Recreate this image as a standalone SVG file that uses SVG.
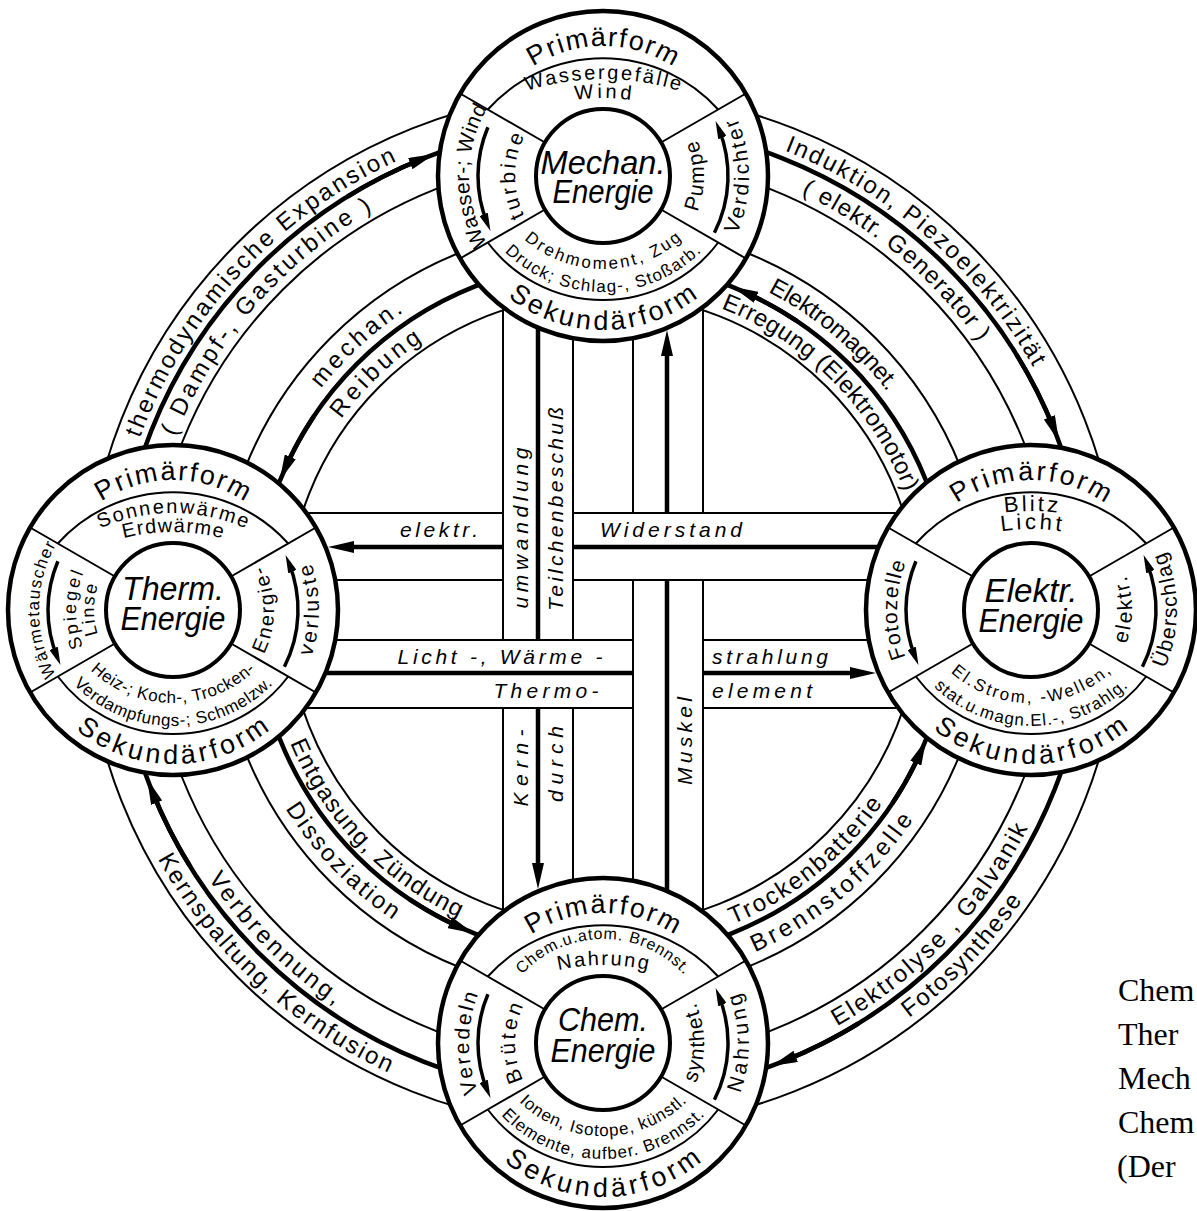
<svg xmlns="http://www.w3.org/2000/svg" width="1197" height="1211" viewBox="0 0 1197 1211">
<style>
.thin{fill:none;stroke:#000;stroke-width:2}
.thick{fill:none;stroke:#000;stroke-width:4.5}
.no{fill:#fff;stroke:#000;stroke-width:4.5}
.ni{fill:#fff;stroke:#000;stroke-width:4}
.na{fill:none;stroke:#000;stroke-width:3.5}
text{font-family:"Liberation Sans",Arial,sans-serif;fill:#000}
.rt{font-size:24px;text-anchor:middle}
.bt{font-size:21px;font-style:italic;text-anchor:middle}
.pf{font-size:27px;text-anchor:middle}
.t20{font-size:20px;text-anchor:middle}
.t22{font-size:22px;text-anchor:middle}
.t17{font-size:17px;text-anchor:middle}
.t16{font-size:16px;text-anchor:middle}
.t18{font-size:18px;text-anchor:middle}
.t21{font-size:21px;text-anchor:middle}
.cl{font-size:33px;font-style:italic;text-anchor:middle}
.cap{font-family:"Liberation Serif","Times New Roman",serif;font-size:32px}
</style>
<defs>
<marker id="ah" viewBox="0 0 26 12" refX="14" refY="6" markerWidth="26" markerHeight="12" markerUnits="userSpaceOnUse" orient="auto"><path d="M0,0 L26,6 L0,12 z" fill="#000"/></marker>
<marker id="ahs" viewBox="0 0 18 9" refX="10" refY="4.5" markerWidth="18" markerHeight="9" markerUnits="userSpaceOnUse" orient="auto"><path d="M0,0 L18,4.5 L0,9 z" fill="#000"/></marker>
<path id="rcw494" d="M603,1104 A494,494 0 1,1 603,116 A494,494 0 1,1 603,1104"/>
<path id="rcw461" d="M603,1071.5 A461.5,461.5 0 1,1 603,148.5 A461.5,461.5 0 1,1 603,1071.5"/>
<path id="rcw358" d="M603,968.5 A358.5,358.5 0 1,1 603,251.5 A358.5,358.5 0 1,1 603,968.5"/>
<path id="rcw324" d="M603,934 A324,324 0 1,1 603,286 A324,324 0 1,1 603,934"/>
<path id="rccw510" d="M603,100 A510,510 0 1,0 603,1120 A510,510 0 1,0 603,100"/>
<path id="rccw477" d="M603,132.5 A477.5,477.5 0 1,0 603,1087.5 A477.5,477.5 0 1,0 603,132.5"/>
<path id="rccw374" d="M603,235.5 A374.5,374.5 0 1,0 603,984.5 A374.5,374.5 0 1,0 603,235.5"/>
<path id="rccw340" d="M603,270 A340,340 0 1,0 603,950 A340,340 0 1,0 603,270"/>
<path id="cw130" d="M0,130 A130,130 0 1,1 0,-130 A130,130 0 1,1 0,130"/>
<path id="cw97" d="M0,97 A97,97 0 1,1 0,-97 A97,97 0 1,1 0,97"/>
<path id="cw79" d="M0,79 A79,79 0 1,1 0,-79 A79,79 0 1,1 0,79"/>
<path id="cw134" d="M0,134 A134,134 0 1,1 0,-134 A134,134 0 1,1 0,134"/>
<path id="cw88" d="M0,88 A88,88 0 1,1 0,-88 A88,88 0 1,1 0,88"/>
<path id="ccw154" d="M0,-154 A154,154 0 1,0 0,154 A154,154 0 1,0 0,-154"/>
<path id="ccw101" d="M0,-101 A101,101 0 1,0 0,101 A101,101 0 1,0 0,-101"/>
<path id="ccw146" d="M0,-146 A146,146 0 1,0 0,146 A146,146 0 1,0 0,-146"/>
<path id="tA97" d="M-250,153 A250,250 0 0,1 250,153"/>
<path id="tS99" d="M-180,83 A180,180 0 0,1 180,83"/>
<path id="tA78" d="M-200,122 A200,200 0 0,1 200,122"/>
<path id="tB99" d="M-200,101 A200,200 0 0,1 200,101"/>
<path id="tB81" d="M-200,119 A200,200 0 0,1 200,119"/>
<path id="tC104" d="M-110,6 A110,110 0 0,1 110,6"/>
<path id="bA93" d="M-120,-27 A120,120 0 0,0 120,-27"/>
<path id="bA116" d="M-140,-24 A140,140 0 0,0 140,-24"/>
</defs>
<rect width="1197" height="1211" fill="#fff"/>

<g id="connectors">
<g id="rings">
<circle cx="603" cy="610" r="518" class="thin"/>
<circle cx="603" cy="610" r="486" class="thick"/>
<circle cx="603" cy="610" r="453" class="thin"/>
<circle cx="603" cy="610" r="385" class="thin"/>
<circle cx="603" cy="610" r="348" class="thick"/>
<circle cx="603" cy="610" r="316" class="thin"/>
<path class="thick" d="M347.6,196.5 A486,486 0 0,1 423.3,158.5" marker-end="url(#ah)"/>
<path class="thick" d="M1016.5,354.6 A486,486 0 0,1 1054.5,430.3" marker-end="url(#ah)"/>
<path class="thick" d="M858.4,1023.5 A486,486 0 0,1 782.7,1061.5" marker-end="url(#ah)"/>
<path class="thick" d="M189.5,865.4 A486,486 0 0,1 151.5,789.7" marker-end="url(#ah)"/>
<path class="thick" d="M313.8,416.4 A348,348 0 0,0 284.6,469.6" marker-end="url(#ah)"/>
<path class="thick" d="M796.6,320.8 A348,348 0 0,0 743.4,291.6" marker-end="url(#ah)"/>
<path class="thick" d="M892.2,803.6 A348,348 0 0,0 921.4,750.4" marker-end="url(#ah)"/>
<path class="thick" d="M409.4,899.2 A348,348 0 0,0 462.6,928.4" marker-end="url(#ah)"/>
<text class="rt"><textPath href="#rcw494" startOffset="36.9%" textLength="388">thermodynamische Expansion</textPath></text>
<text class="rt"><textPath href="#rcw461" startOffset="36.4%" textLength="306">( Dampf-, Gasturbine )</textPath></text>
<text class="rt"><textPath href="#rcw358" startOffset="38.1%" textLength="113">mechan.</textPath></text>
<text class="rt"><textPath href="#rcw324" startOffset="37.8%" textLength="113">Reibung</textPath></text>
<text class="rt"><textPath href="#rcw494" startOffset="61.4%" textLength="336">Induktion, Piezoelektrizität</textPath></text>
<text class="rt"><textPath href="#rcw461" startOffset="61.1%" textLength="234">( elektr. Generator )</textPath></text>
<text class="rt"><textPath href="#rcw358" startOffset="61.1%" textLength="157">Elektromagnet.</textPath></text>
<text class="rt"><textPath href="#rcw324" startOffset="62.5%" textLength="267">Erregung (Elektromotor)</textPath></text>
<text class="rt"><textPath href="#rccw510" startOffset="62.8%" textLength="164">Fotosynthese</textPath></text>
<text class="rt"><textPath href="#rccw477" startOffset="62.8%" textLength="279">Elektrolyse , Galvanik</textPath></text>
<text class="rt"><textPath href="#rccw374" startOffset="61.1%" textLength="209">Brennstoffzelle</textPath></text>
<text class="rt"><textPath href="#rccw340" startOffset="60.8%" textLength="195">Trockenbatterie</textPath></text>
<text class="rt"><textPath href="#rccw510" startOffset="38.1%" textLength="320">Kernspaltung, Kernfusion</textPath></text>
<text class="rt"><textPath href="#rccw477" startOffset="37.5%" textLength="180">Verbrennung,</textPath></text>
<text class="rt"><textPath href="#rccw374" startOffset="37.2%" textLength="156">Dissoziation</textPath></text>
<text class="rt"><textPath href="#rccw340" startOffset="37.2%" textLength="248">Entgasung, Zündung</textPath></text>
</g>
<g id="bands">
<path class="thin" d="M300,513 H503 M573,513 H910 M300,580 H503 M573,580 H910"/>
<path class="thick" d="M573,547 H885"/>
<path class="thick" d="M503,547 H340" marker-end="url(#ah)"/>
<path class="thin" d="M300,640 H633 M703,640 H910 M300,708 H633 M703,708 H910"/>
<path class="thick" d="M320,673 H633"/>
<path class="thick" d="M703,673 H864" marker-end="url(#ah)"/>
<path class="thin" d="M503,290 V640 M503,708 V930 M573,290 V640 M573,708 V930"/>
<path class="thick" d="M538,320 V640"/>
<path class="thick" d="M538,708 V877" marker-end="url(#ah)"/>
<path class="thin" d="M633,290 V513 M633,580 V930 M703,290 V513 M703,580 V930"/>
<path class="thick" d="M667,513 V342" marker-end="url(#ah)"/>
<path class="thick" d="M667,580 V900"/>
<text class="bt" x="439" y="537" textLength="78">elektr.</text>
<text class="bt" x="671" y="537" textLength="142">Widerstand</text>
<text class="bt" x="500" y="663.5" textLength="205">Licht -, Wärme -</text>
<text class="bt" x="770" y="663.5" textLength="116">strahlung</text>
<text class="bt" x="546" y="697.5" textLength="105">Thermo-</text>
<text class="bt" x="762" y="697.5" textLength="100">element</text>
<text class="bt" transform="translate(527.5,528) rotate(-90)" textLength="161">umwandlung</text>
<text class="bt" transform="translate(562.5,509) rotate(-90)" textLength="204">Teilchenbeschuß</text>
<text class="bt" transform="translate(527.5,768) rotate(-90)" textLength="77">Kern-</text>
<text class="bt" transform="translate(562.5,764) rotate(-90)" textLength="76">durch</text>
<text class="bt" transform="translate(692,741) rotate(-90)" textLength="88">Muskel</text>
</g>
</g>

<g id="node-mechan" transform="translate(603,176)">
<circle r="165" class="no"/>
<path class="thin" d="M-115.2,-66.5 A155,155 0 0,1 115.2,-66.5 M115.2,66.5 A144,144 0 0,1 -115.2,66.5 M-58,-33.5 L-142.9,-82.5 M58,-33.5 L142.9,-82.5 M58,33.5 L142.9,82.5 M-58,33.5 L-142.9,82.5"/>
<circle r="67" class="ni"/>
<path class="na" d="M-115.1,-48.8 A125,125 0 0,0 -115.6,47.6" marker-end="url(#ahs)"/>
<path class="na" d="M111.4,56.7 A125,125 0 0,0 115.6,-47.6" marker-end="url(#ahs)"/>
<text class="pf"><textPath href="#cw130" startOffset="50%" textLength="148">Primärform</textPath></text>
<text class="pf"><textPath href="#ccw154" startOffset="50%" textLength="205">Sekundärform</textPath></text>
<text class="t20"><textPath href="#tA97" startOffset="50%" textLength="155">Wassergefälle</textPath></text>
<text class="t20"><textPath href="#tA78" startOffset="50%" textLength="56">Wind</textPath></text>
<text class="t17"><textPath href="#bA93" startOffset="50%" textLength="172">Drehmoment, Zug</textPath></text>
<text class="t17"><textPath href="#bA116" startOffset="50%" textLength="218">Druck; Schlag-, Stoßarb.</textPath></text>
<text class="t21"><textPath href="#cw134" startOffset="25%" textLength="142">Wasser-; Wind</textPath></text>
<text class="t21"><textPath href="#cw88" startOffset="25%" textLength="83">turbine</textPath></text>
<text class="t21"><textPath href="#ccw101" startOffset="75%" textLength="74">Pumpe</textPath></text>
<text class="t21"><textPath href="#ccw146" startOffset="75%" textLength="120">Verdichter</textPath></text>
<text class="cl" x="0" y="-2" textLength="125" lengthAdjust="spacingAndGlyphs">Mechan.</text>
<text class="cl" x="0" y="27" textLength="101" lengthAdjust="spacingAndGlyphs">Energie</text>
</g>

<g id="node-therm" transform="translate(173,610)">
<circle r="165" class="no"/>
<path class="thin" d="M-115.2,-66.5 A155,155 0 0,1 115.2,-66.5 M115.2,66.5 A144,144 0 0,1 -115.2,66.5 M-58,-33.5 L-142.9,-82.5 M58,-33.5 L142.9,-82.5 M58,33.5 L142.9,82.5 M-58,33.5 L-142.9,82.5"/>
<circle r="67" class="ni"/>
<path class="na" d="M-115.1,-48.8 A125,125 0 0,0 -115.6,47.6" marker-end="url(#ahs)"/>
<path class="na" d="M111.4,56.7 A125,125 0 0,0 115.6,-47.6" marker-end="url(#ahs)"/>
<text class="pf"><textPath href="#cw130" startOffset="50%" textLength="152">Primärform</textPath></text>
<text class="pf"><textPath href="#ccw154" startOffset="50%" textLength="210">Sekundärform</textPath></text>
<text class="t20"><textPath href="#tS99" startOffset="50%" textLength="150">Sonnenwärme</textPath></text>
<text class="t20"><textPath href="#tA78" startOffset="50%" textLength="100">Erdwärme</textPath></text>
<text class="t17"><textPath href="#bA93" startOffset="50%" textLength="182">Heiz-; Koch-, Trocken-</textPath></text>
<text class="t17"><textPath href="#bA116" startOffset="50%" textLength="222">Verdampfungs-; Schmelzw.</textPath></text>
<text class="t17"><textPath href="#cw134" startOffset="25%" textLength="136">Wärmetauscher</textPath></text>
<text class="t18"><textPath href="#cw97" startOffset="25%" textLength="76">Spiegel</textPath></text>
<text class="t18"><textPath href="#cw79" startOffset="25%" textLength="50">Linse</textPath></text>
<text class="t20"><textPath href="#ccw101" startOffset="75%" textLength="92">Energie-</textPath></text>
<text class="t21"><textPath href="#ccw146" startOffset="75%" textLength="95">verluste</textPath></text>
<text class="cl" x="0" y="-10" textLength="102" lengthAdjust="spacingAndGlyphs">Therm.</text>
<text class="cl" x="0" y="20" textLength="105" lengthAdjust="spacingAndGlyphs">Energie</text>
</g>

<g id="node-elektr" transform="translate(1031,610)">
<circle r="165" class="no"/>
<path class="thin" d="M-115.2,-66.5 A155,155 0 0,1 115.2,-66.5 M115.2,66.5 A144,144 0 0,1 -115.2,66.5 M-58,-33.5 L-142.9,-82.5 M58,-33.5 L142.9,-82.5 M58,33.5 L142.9,82.5 M-58,33.5 L-142.9,82.5"/>
<circle r="67" class="ni"/>
<path class="na" d="M-115.1,-48.8 A125,125 0 0,0 -115.6,47.6" marker-end="url(#ahs)"/>
<path class="na" d="M111.4,56.7 A125,125 0 0,0 115.6,-47.6" marker-end="url(#ahs)"/>
<text class="pf"><textPath href="#cw130" startOffset="50%" textLength="158">Primärform</textPath></text>
<text class="pf"><textPath href="#ccw154" startOffset="50%" textLength="212">Sekundärform</textPath></text>
<text class="t22"><textPath href="#tB99" startOffset="50%" textLength="53">Blitz</textPath></text>
<text class="t22"><textPath href="#tB81" startOffset="50%" textLength="60">Licht</textPath></text>
<text class="t17"><textPath href="#bA93" startOffset="50%" textLength="176">El.Strom, -Wellen,</textPath></text>
<text class="t17"><textPath href="#bA116" startOffset="50%" textLength="215">stat.u.magn.El.-, Strahlg.</textPath></text>
<text class="t21"><textPath href="#cw134" startOffset="25%" textLength="97">Fotozelle</textPath></text>
<text class="t21"><textPath href="#ccw101" startOffset="75%" textLength="70">elektr.</textPath></text>
<text class="t21"><textPath href="#ccw146" startOffset="75%" textLength="120">Überschlag</textPath></text>
<text class="cl" x="0" y="-8" textLength="93" lengthAdjust="spacingAndGlyphs">Elektr.</text>
<text class="cl" x="0" y="22" textLength="105" lengthAdjust="spacingAndGlyphs">Energie</text>
</g>

<g id="node-chem" transform="translate(603,1043)">
<circle r="165" class="no"/>
<path class="thin" d="M-115.2,-66.5 A155,155 0 0,1 115.2,-66.5 M115.2,66.5 A144,144 0 0,1 -115.2,66.5 M-58,-33.5 L-142.9,-82.5 M58,-33.5 L142.9,-82.5 M58,33.5 L142.9,82.5 M-58,33.5 L-142.9,82.5"/>
<circle r="67" class="ni"/>
<path class="na" d="M-115.1,-48.8 A125,125 0 0,0 -115.6,47.6" marker-end="url(#ahs)"/>
<path class="na" d="M111.4,56.7 A125,125 0 0,0 115.6,-47.6" marker-end="url(#ahs)"/>
<text class="pf"><textPath href="#cw130" startOffset="50%" textLength="152">Primärform</textPath></text>
<text class="pf"><textPath href="#ccw154" startOffset="50%" textLength="215">Sekundärform</textPath></text>
<text class="t16"><textPath href="#tC104" startOffset="50%" textLength="182">Chem.u.atom. Brennst.</textPath></text>
<text class="t20"><textPath href="#tA78" startOffset="50%" textLength="90">Nahrung</textPath></text>
<text class="t17"><textPath href="#bA93" startOffset="50%" textLength="186">Ionen, Isotope, künstl.</textPath></text>
<text class="t17"><textPath href="#bA116" startOffset="50%" textLength="228">Elemente, aufber. Brennst.</textPath></text>
<text class="t21"><textPath href="#cw134" startOffset="25%" textLength="100">Veredeln</textPath></text>
<text class="t21"><textPath href="#cw88" startOffset="25%" textLength="77">Brüten</textPath></text>
<text class="t21"><textPath href="#ccw101" startOffset="75%" textLength="83">synthet.</textPath></text>
<text class="t21"><textPath href="#ccw146" startOffset="75%" textLength="103">Nahrung</textPath></text>
<text class="cl" x="0" y="-12" textLength="90" lengthAdjust="spacingAndGlyphs">Chem.</text>
<text class="cl" x="0" y="19" textLength="105" lengthAdjust="spacingAndGlyphs">Energie</text>
</g>

<g id="caption">
<text class="cap" x="1118" y="1001">Chem</text>
<text class="cap" x="1118" y="1045">Ther</text>
<text class="cap" x="1118" y="1089">Mech</text>
<text class="cap" x="1118" y="1133">Chem</text>
<text class="cap" x="1117" y="1177">(Der</text>
</g>
</svg>
